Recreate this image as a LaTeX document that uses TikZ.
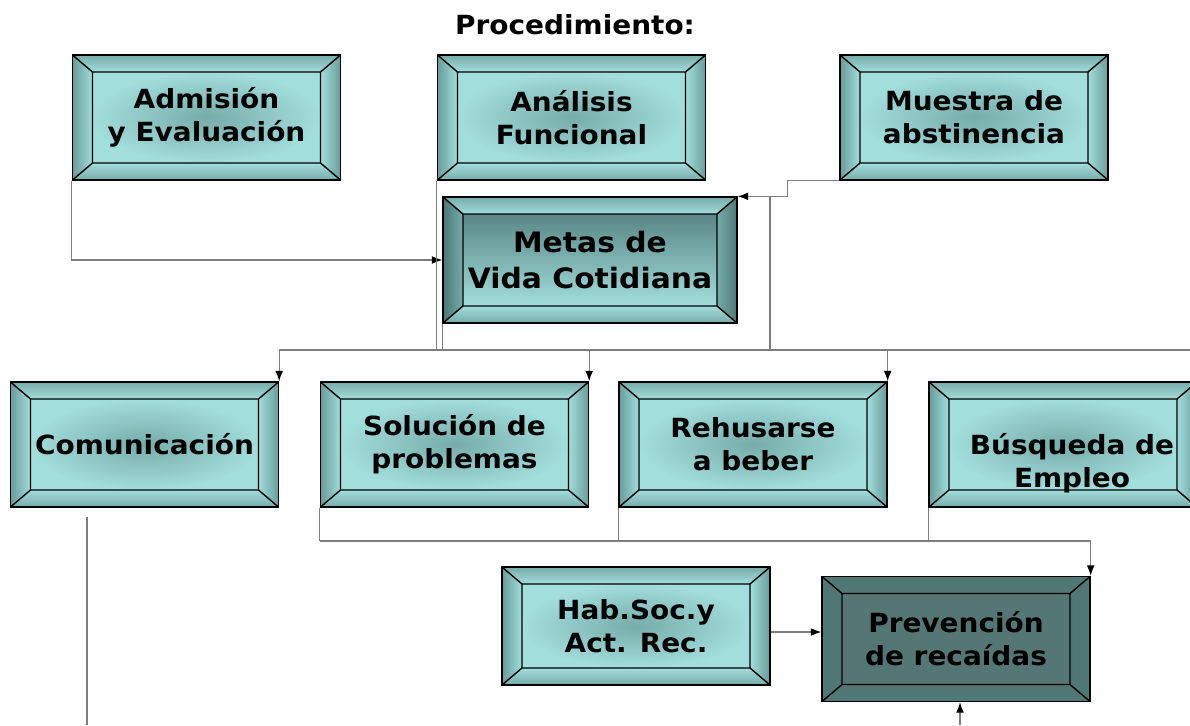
\documentclass[tikz,border=0pt]{standalone}
\usepackage{fontspec}
\newfontfamily\comicfont[FakeStretch=1.06]{DejaVu Sans}
\usepackage{tikz}
\usetikzlibrary{arrows.meta}

\definecolor{bevlight}{RGB}{162,222,220}
\definecolor{bevmid}{RGB}{118,172,170}
\definecolor{bevdark}{RGB}{76,120,118}
\definecolor{prevfill}{RGB}{84,118,117}
\definecolor{wire}{RGB}{125,125,125}

% bevelled frame, drawn inside the node
\newcommand{\bevelparts}[5]{%
  \path (path picture bounding box.south west) coordinate (bsw)
        (path picture bounding box.north east) coordinate (bne);
  \path (bsw) ++(0.4cm,0.34cm) coordinate (isw)
        (bne) ++(-0.4cm,-0.34cm) coordinate (ine);
  \shade[left color=#1, right color=#2] (bsw) -- (isw) -- (isw|-ine) -- (bsw|-bne) -- cycle;
  \shade[left color=#2, right color=#1] (bne) -- (ine) -- (ine|-isw) -- (bne|-bsw) -- cycle;
  \shade[top color=#4, bottom color=#3] (bsw|-bne) -- (bne) -- (ine) -- (isw|-ine) -- cycle;
  \shade[top color=#3, bottom color=#4] (bsw) -- (bne|-bsw) -- (ine|-isw) -- (isw) -- cycle;
  \shade[#5] (isw) rectangle (ine);
  \draw[line width=0.8pt] (isw) rectangle (ine)
    (bsw) -- (isw) (bne) -- (ine) (bsw|-bne) -- (isw|-ine) (bne|-bsw) -- (ine|-isw);
}

\tikzset{
  boxtext/.style={font=\comicfont\bfseries\fontsize{15}{18.7}\selectfont, align=center, text=black},
  bevbox/.style={draw, line width=0.8pt, inner sep=0pt, minimum width=5.36cm, minimum height=2.5cm, boxtext,
    path picture={\bevelparts{bevmid!70!bevdark}{bevlight}{bevlight}{bevmid}{inner color=bevmid, outer color=bevlight}}},
  metabox/.style={bevbox, minimum width=5.88cm, minimum height=2.52cm,
    font=\comicfont\bfseries\fontsize{16}{20.4}\selectfont,
    path picture={\bevelparts{bevdark}{bevmid}{bevlight}{bevmid}{top color=bevdark!85!bevlight, bottom color=bevlight}}},
  prevbox/.style={bevbox,
    path picture={\bevelparts{bevdark}{prevfill}{prevfill}{bevdark}{inner color=prevfill, outer color=prevfill}}},
  wire/.style={draw=wire, line width=0.7pt},
  arr/.style={wire, -{Latex[length=6pt, width=4.5pt, color=black]}}
}

\begin{document}
\begin{tikzpicture}[x=0.02cm, y=-0.02cm]
\useasboundingbox (0,0) rectangle (1190,725);

\node[boxtext] (title) at (575,25) {Procedimiento:};

% first row
\node[bevbox] (adm) at (206.5,117.5) {Admisión\\y Evaluación};
\node[bevbox] (ana) at (571.5,117.5) {Análisis\\Funcional};
\node[bevbox] (mue) at (974,117.5) {Muestra de\\abstinencia};
\node[metabox] (met) at (590,260) {Metas de\\Vida Cotidiana};

% second row
\node[bevbox] (com) at (144.5,444.5) {Comunicación};
\node[bevbox] (sol) at (454.5,444.5) {Solución de\\problemas};
\node[bevbox] (reh) at (753,444.5) {Rehusarse\\a beber};
\node[bevbox] (bus) at (1063,444.5) {};
\node[boxtext] (bustxt) at (1072,463) {Búsqueda de\\Empleo};

% third row
\node[bevbox, minimum height=2.36cm] (hab) at (636,626) {Hab.Soc.y\\Act. Rec.};
\node[prevbox] (pre) at (956,639) {Prevención\\de recaídas};

\coordinate (hbus) at (0,350);
\coordinate (lbus) at (0,541);
\coordinate (mx) at (770,197);
\coordinate (busend) at (1190,350);
\coordinate (pin) at (960,725);
\coordinate (ctop) at (87,517);
\coordinate (cbot) at (87,725);

\draw[arr] (adm.south west) -- (adm.south west |- met.west) -- (met.west);
\draw[wire] (ana.south west) -- (ana.south west |- hbus);
\draw[arr] (mue.south west) -- ++(-52,0) |- (met.north east);
\draw[wire] (mx) -- (mx |- hbus);
\draw[wire] (met.south west) -- (met.south west |- hbus);
\draw[wire] (com.north east |- hbus) -- (busend);
\foreach \n in {com,sol,reh,bus}
  \draw[arr] (\n.north east |- hbus) -- (\n.north east);

\foreach \n in {sol,reh,bus}
  \draw[wire] (\n.south west) -- (\n.south west |- lbus);
\draw[arr] (sol.south west |- lbus) -| (pre.north east);
\draw[arr] ([yshift=-0.12cm]hab.east) -- ([yshift=-0.12cm]hab.east -| pre.west);
\draw[arr] (pin) -- (pin |- pre.south);
\draw[wire] (ctop) -- (cbot);
\end{tikzpicture}
\end{document}
